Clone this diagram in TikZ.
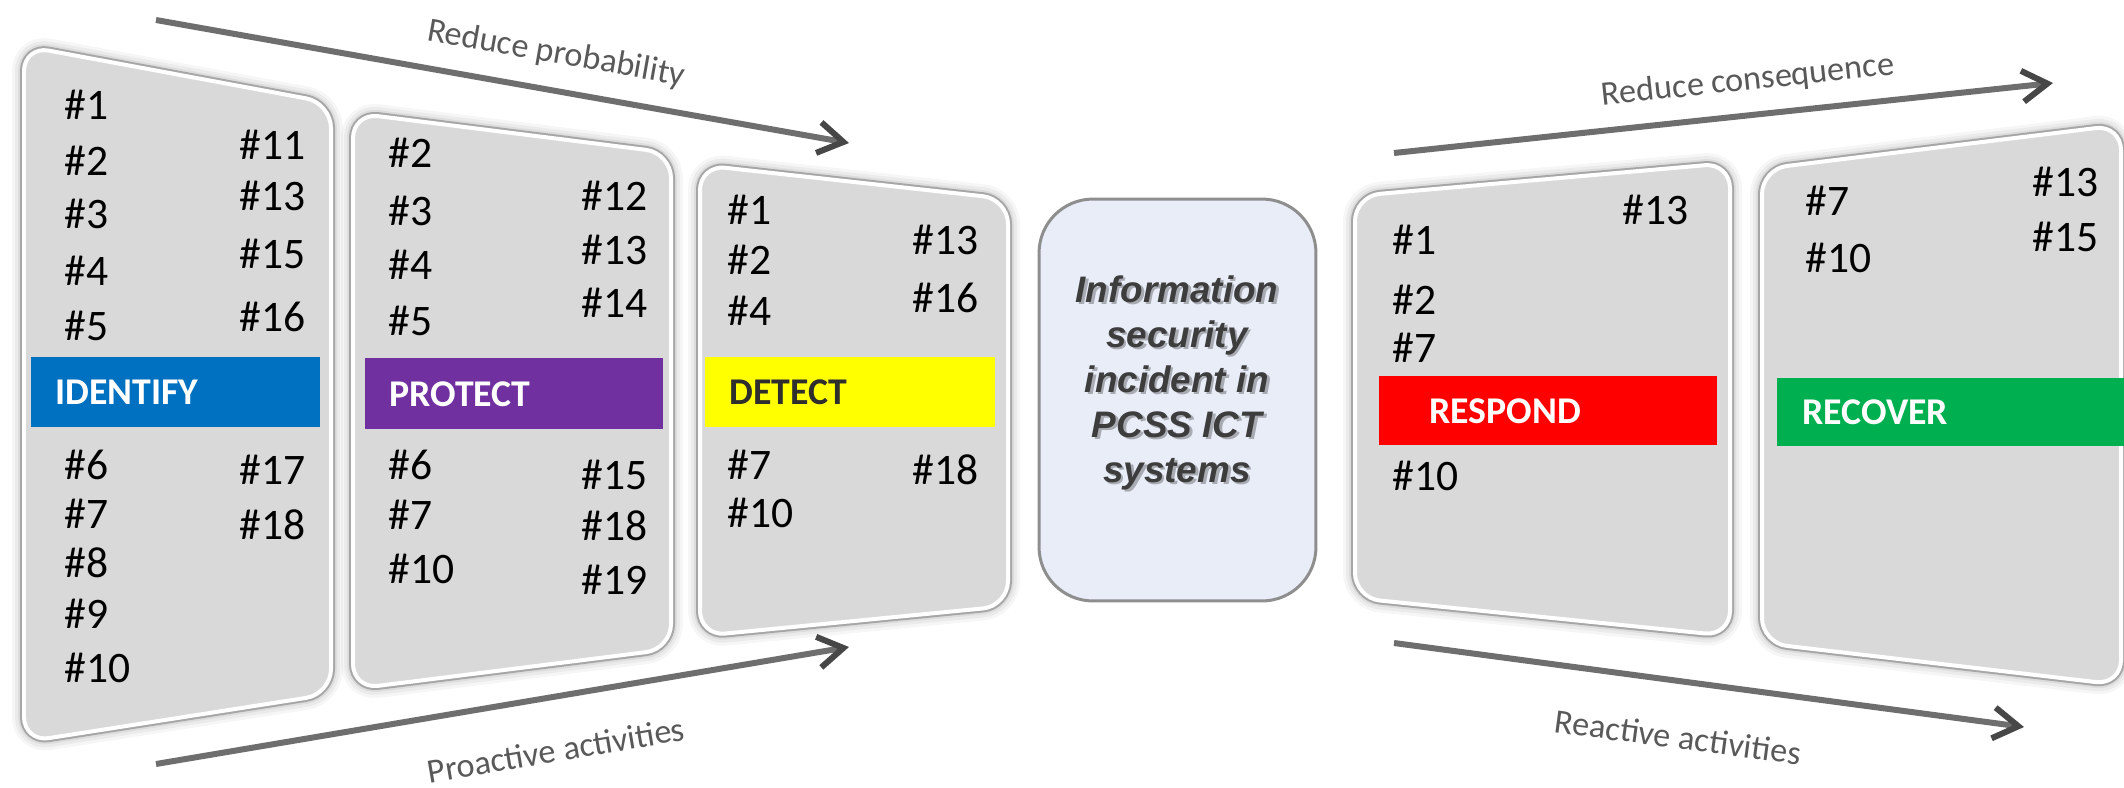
\documentclass[tikz,border=0pt]{standalone}
\usepackage{fontspec}
\setmainfont{Carlito}
\newfontfamily\arialfont{Liberation Sans}
\usetikzlibrary{arrows.meta}

\definecolor{panelfill}{HTML}{D9D9D9}
\definecolor{panelrim}{HTML}{A6A6A6}
\definecolor{arrowgray}{HTML}{6E6E6E}
\definecolor{tipgray}{HTML}{474747}
\definecolor{labelgray}{HTML}{595959}
\definecolor{boxfill}{HTML}{E9EDF8}
\definecolor{boxrim}{HTML}{8E8E8E}
\definecolor{idblue}{HTML}{0070C0}
\definecolor{prpurple}{HTML}{7030A0}
\definecolor{deyellow}{HTML}{FFFF00}
\definecolor{rsred}{HTML}{FF0000}
\definecolor{rcgreen}{HTML}{00B050}

% a slanted card: soft halo, grey rim, grey face, white inner edge
\newcommand\drawcard[1]{%
  \foreach \w/\o in {24/0.035,18/0.045,12/0.06} {%
    \draw[line width=\w*0.02cm, black, opacity=\o, rounded corners=0.5cm, line join=round] #1 -- cycle;}
  \draw[line width=0.16cm, panelrim, rounded corners=0.5cm] #1 -- cycle;
  \fill[panelfill, rounded corners=0.5cm] #1 -- cycle;
  \draw[line width=0.08cm, white, rounded corners=0.5cm] #1 -- cycle;
}

\tikzset{
  x=0.02cm, y=-0.02cm,
  num/.style={font=\fontsize{24.8}{30}\selectfont, inner sep=0pt, anchor=west, text=black},
  barlabel/.style={font=\fontsize{21.5}{26}\selectfont\bfseries, inner sep=0pt, anchor=west, text=white},
  arrowlabel/.style={font=\fontsize{19.5}{24}\selectfont, inner sep=0pt, text=labelgray},
  flowarrow/.style={draw=arrowgray, line width=0.12cm,
    -{Straight Barb[length=0.5cm, width=0.62cm, color=tipgray]}},
  incidentbox/.style={draw=boxrim, fill=boxfill, line width=0.06cm, rounded corners=1.08cm,
    minimum width=5.54cm, minimum height=8.04cm, inner sep=0pt},
  incidenttext/.style={font=\arialfont\bfseries\itshape\fontsize{21}{25.5}\selectfont,
    align=center, text=black!76, inner sep=0pt},
}

\begin{document}
\begin{tikzpicture}
\useasboundingbox (0,0) rectangle (2124,788);

% ---------- cards ----------
\drawcard{(24,46) -- (331,103) -- (331,694) -- (24,742)}
\drawcard{(353,113) -- (671,153) -- (671,649) -- (353,689)}
\drawcard{(700,165) -- (1008,199) -- (1008,606) -- (700,636)}
\drawcard{(1355,196) -- (1730,163) -- (1730,636) -- (1355,598)}
\drawcard{(1762,169) -- (2121,125) -- (2121,685) -- (1762,643)}

% ---------- function bars ----------
\fill[idblue]   (31,357) rectangle (320,427);
\fill[prpurple] (365,358) rectangle (663,429);
\fill[deyellow] (705,357) rectangle (995,427);
\fill[rsred]    (1379,376) rectangle (1717,445);
\fill[rcgreen]  (1777,378) rectangle (2124,446);

\node[barlabel] (identify) at (55,392) {IDENTIFY};
\node[barlabel] (protect) at (389,394) {PROTECT};
\node[barlabel, text=black!82] (detect) at (729,392) {DETECT};
\node[barlabel] (respond) at (1429,411) {RESPOND};
\node[barlabel] (recover) at (1802,412) {RECOVER};

% ---------- IDENTIFY items ----------
\foreach \n/\yy in {1/105,2/161,3/214,4/271,5/326,6/465,7/514,8/563,9/614,10/668}
  \node[num] (id\n) at (64,\yy) {\#\n};
\foreach \n/\yy in {11/145,13/196,15/254,16/317,17/470,18/525}
  \node[num] (id\n) at (239,\yy) {\#\n};

% ---------- PROTECT items ----------
\foreach \n/\yy in {2/153,3/211,4/265,5/321,6/465,7/515,10/569}
  \node[num] (pr\n) at (388,\yy) {\#\n};
\foreach \n/\yy in {12/196,13/250,14/303,15/475,18/526,19/580}
  \node[num] (pr\n) at (581,\yy) {\#\n};

% ---------- DETECT items ----------
\foreach \n/\yy in {1/210,2/260,4/311,7/465,10/513}
  \node[num] (de\n) at (727,\yy) {\#\n};
\foreach \n/\yy in {13/240,16/298,18/470}
  \node[num] (de\n) at (912,\yy) {\#\n};

% ---------- RESPOND items ----------
\foreach \n/\yy in {1/240,2/300,7/348,10/476}
  \node[num] (rs\n) at (1392,\yy) {\#\n};
\node[num] (rs13) at (1622,210) {\#13};

% ---------- RECOVER items ----------
\foreach \n/\yy in {7/201,10/258}
  \node[num] (rc\n) at (1805,\yy) {\#\n};
\foreach \n/\yy in {13/182,15/237}
  \node[num] (rc\n) at (2032,\yy) {\#\n};

% ---------- incident (text with a soft drop shadow) ----------
\node[incidentbox] (incident) at (1177.5,400) {};
\node[incidenttext, text=black, opacity=0.28] (incidentshadow) at (1179.5,385)
  {Information\\security\\incident in\\PCSS ICT\\systems};
\node[incidenttext] (incidenttxt) at (1177,383)
  {Information\\security\\incident in\\PCSS ICT\\systems};

% ---------- flow arrows ----------
\coordinate (probA) at (156,20);   \coordinate (probB) at (849,143);
\coordinate (proaA) at (156,764);  \coordinate (proaB) at (849,647);
\coordinate (consA) at (1394,153); \coordinate (consB) at (2053,83);
\coordinate (reacA) at (1394,643); \coordinate (reacB) at (2024,727);

\draw[flowarrow] (probA) -- (probB);
\draw[flowarrow] (proaA) -- (proaB);
\draw[flowarrow] (consA) -- (consB);
\draw[flowarrow] (reacA) -- (reacB);

\node[arrowlabel, rotate=-10.06] (problabel) at (556,54) {Reduce probability};
\node[arrowlabel, rotate=9.6] (proalabel) at (556,750) {Proactive activities};
\node[arrowlabel, rotate=6.06] (conslabel) at (1748,81) {Reduce consequence};
\node[arrowlabel, rotate=-7.6] (reaclabel) at (1678,737) {Reactive activities};
\end{tikzpicture}
\end{document}
